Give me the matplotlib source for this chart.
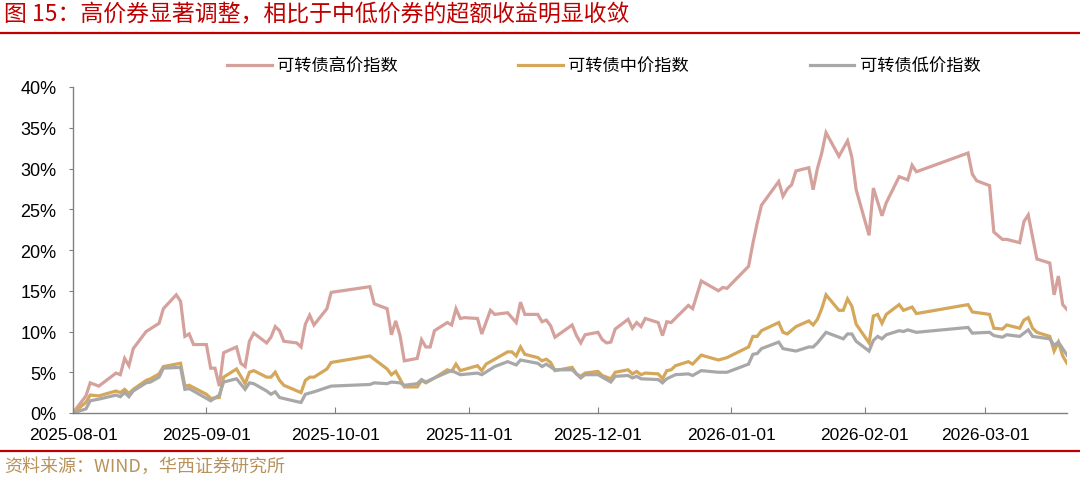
import matplotlib
matplotlib.use('Agg')
import matplotlib.pyplot as plt
import matplotlib.dates as mdates
import pandas as pd

plt.rcParams['font.family'] = ['Liberation Sans', 'Noto Sans CJK SC', 'DejaVu Sans']

# ---------------- 数据（从图上读取，单位 %） ----------------
high_dates = ['2025-08-01', '2025-08-04', '2025-08-05', '2025-08-07', '2025-08-11', '2025-08-12',
              '2025-08-13', '2025-08-14', '2025-08-15', '2025-08-18', '2025-08-21', '2025-08-22',
              '2025-08-25', '2025-08-26', '2025-08-27', '2025-08-28', '2025-08-29', '2025-09-01',
              '2025-09-02', '2025-09-03', '2025-09-04', '2025-09-05', '2025-09-08', '2025-09-09',
              '2025-09-10', '2025-09-11', '2025-09-12', '2025-09-15', '2025-09-16', '2025-09-17',
              '2025-09-18', '2025-09-19', '2025-09-22', '2025-09-23', '2025-09-24', '2025-09-25',
              '2025-09-26', '2025-09-29', '2025-09-30', '2025-10-09', '2025-10-10', '2025-10-13',
              '2025-10-14', '2025-10-15', '2025-10-16', '2025-10-17', '2025-10-20', '2025-10-21',
              '2025-10-22', '2025-10-23', '2025-10-24', '2025-10-27', '2025-10-28', '2025-10-29',
              '2025-10-30', '2025-10-31', '2025-11-03', '2025-11-04', '2025-11-06', '2025-11-07',
              '2025-11-10', '2025-11-12', '2025-11-13', '2025-11-14', '2025-11-17', '2025-11-18',
              '2025-11-19', '2025-11-20', '2025-11-21', '2025-11-25', '2025-11-26', '2025-11-27',
              '2025-11-28', '2025-12-01', '2025-12-02', '2025-12-03', '2025-12-04', '2025-12-05',
              '2025-12-08', '2025-12-09', '2025-12-10', '2025-12-11', '2025-12-12', '2025-12-15',
              '2025-12-16', '2025-12-17', '2025-12-18', '2025-12-22', '2025-12-23', '2025-12-25',
              '2025-12-29', '2025-12-30', '2025-12-31', '2026-01-05', '2026-01-06', '2026-01-07',
              '2026-01-08', '2026-01-12', '2026-01-13', '2026-01-14', '2026-01-15', '2026-01-16',
              '2026-01-19', '2026-01-20', '2026-01-21', '2026-01-22', '2026-01-23', '2026-01-26',
              '2026-01-28', '2026-01-29', '2026-01-30', '2026-02-02', '2026-02-03', '2026-02-05',
              '2026-02-06', '2026-02-09', '2026-02-11', '2026-02-12', '2026-02-13', '2026-02-25',
              '2026-02-26', '2026-02-27', '2026-03-02', '2026-03-03', '2026-03-05', '2026-03-06',
              '2026-03-09', '2026-03-10', '2026-03-11', '2026-03-13', '2026-03-16', '2026-03-17',
              '2026-03-18', '2026-03-19', '2026-03-20']
high_vals = [0.0, 2.1, 3.7, 3.3, 4.9, 4.7, 6.7, 5.8, 7.9, 10.0, 11.0, 12.8,
             14.5, 13.7, 9.4, 9.7, 8.4, 8.4, 5.5, 5.5, 3.3, 7.4, 8.1, 6.1,
             5.7, 8.8, 9.8, 8.6, 9.3, 10.6, 10.1, 8.8, 8.6, 8.1, 10.9, 12.0,
             10.8, 12.8, 14.8, 15.5, 13.4, 12.8, 9.6, 11.3, 9.5, 6.4, 6.7, 9.0,
             8.1, 8.1, 10.1, 11.1, 10.8, 12.8, 11.6, 11.7, 11.6, 9.7, 12.6, 12.1,
             12.3, 11.1, 13.6, 12.1, 12.1, 11.2, 11.4, 10.7, 9.3, 10.8, 9.5, 8.6,
             9.6, 9.9, 9.0, 8.6, 8.7, 10.3, 11.5, 10.4, 11.1, 10.6, 11.6, 11.1,
             9.5, 11.2, 11.1, 13.2, 12.8, 16.2, 15.0, 15.4, 15.3, 18.0, 20.8, 23.3,
             25.5, 28.4, 26.6, 27.5, 28.0, 29.7, 30.1, 27.4, 30.0, 31.9, 34.4, 31.5,
             33.4, 31.4, 27.4, 21.8, 27.6, 24.2, 25.8, 29.0, 28.6, 30.4, 29.6, 31.9,
             29.3, 28.5, 27.9, 22.2, 21.3, 21.3, 20.9, 23.5, 24.3, 18.9, 18.4, 14.5,
             16.8, 13.3, 12.7]

mid_dates = ['2025-08-01', '2025-08-04', '2025-08-05', '2025-08-07', '2025-08-11', '2025-08-12',
             '2025-08-13', '2025-08-14', '2025-08-15', '2025-08-18', '2025-08-19', '2025-08-21',
             '2025-08-22', '2025-08-26', '2025-08-27', '2025-08-28', '2025-09-01', '2025-09-02',
             '2025-09-04', '2025-09-05', '2025-09-08', '2025-09-10', '2025-09-11', '2025-09-12',
             '2025-09-15', '2025-09-16', '2025-09-17', '2025-09-18', '2025-09-19', '2025-09-23',
             '2025-09-24', '2025-09-25', '2025-09-26', '2025-09-29', '2025-09-30', '2025-10-09',
             '2025-10-13', '2025-10-14', '2025-10-15', '2025-10-17', '2025-10-20', '2025-10-21',
             '2025-10-22', '2025-10-24', '2025-10-27', '2025-10-28', '2025-10-29', '2025-10-30',
             '2025-11-03', '2025-11-04', '2025-11-05', '2025-11-07', '2025-11-10', '2025-11-11',
             '2025-11-12', '2025-11-13', '2025-11-14', '2025-11-17', '2025-11-18', '2025-11-19',
             '2025-11-20', '2025-11-21', '2025-11-25', '2025-11-26', '2025-11-27', '2025-11-28',
             '2025-12-01', '2025-12-02', '2025-12-04', '2025-12-05', '2025-12-08', '2025-12-09',
             '2025-12-10', '2025-12-11', '2025-12-12', '2025-12-15', '2025-12-16', '2025-12-17',
             '2025-12-18', '2025-12-19', '2025-12-22', '2025-12-23', '2025-12-25', '2025-12-29',
             '2025-12-31', '2026-01-05', '2026-01-06', '2026-01-07', '2026-01-08', '2026-01-12',
             '2026-01-13', '2026-01-14', '2026-01-16', '2026-01-19', '2026-01-20', '2026-01-21',
             '2026-01-22', '2026-01-23', '2026-01-26', '2026-01-27', '2026-01-28', '2026-01-29',
             '2026-01-30', '2026-02-02', '2026-02-03', '2026-02-04', '2026-02-05', '2026-02-06',
             '2026-02-09', '2026-02-10', '2026-02-12', '2026-02-13', '2026-02-25', '2026-02-26',
             '2026-03-02', '2026-03-03', '2026-03-05', '2026-03-06', '2026-03-09', '2026-03-10',
             '2026-03-11', '2026-03-12', '2026-03-13', '2026-03-16', '2026-03-17', '2026-03-18',
             '2026-03-19', '2026-03-20']
mid_vals = [0.0, 1.3, 2.2, 2.1, 2.7, 2.5, 2.9, 2.4, 2.9, 4.0, 4.2, 4.8,
            5.7, 6.1, 3.3, 3.4, 2.3, 1.8, 1.9, 4.4, 5.4, 3.6, 5.0, 5.2,
            4.4, 4.4, 5.0, 4.0, 3.4, 2.5, 4.0, 4.4, 4.4, 5.4, 6.2, 7.0,
            5.4, 4.7, 5.1, 3.2, 3.2, 4.0, 3.7, 4.3, 5.3, 5.1, 6.0, 5.2,
            5.8, 5.2, 6.0, 6.6, 7.5, 7.5, 7.0, 8.1, 7.2, 6.8, 6.4, 6.6,
            6.2, 5.2, 5.6, 4.8, 4.5, 4.9, 5.1, 4.6, 4.2, 5.0, 5.3, 4.8,
            5.1, 4.7, 4.9, 4.8, 4.2, 5.2, 5.3, 5.8, 6.3, 6.0, 7.1, 6.5,
            6.8, 8.1, 9.4, 9.4, 10.1, 11.1, 9.9, 9.7, 10.6, 11.3, 10.8, 11.5,
            12.8, 14.5, 12.6, 12.6, 14.0, 13.1, 10.9, 8.6, 11.9, 12.1, 11.0, 12.1,
            13.3, 12.6, 13.0, 12.2, 13.3, 12.4, 12.1, 10.4, 10.3, 10.8, 10.4, 11.4,
            11.7, 10.4, 9.9, 9.4, 7.6, 8.7, 7.0, 6.1]

low_dates = ['2025-08-01', '2025-08-04', '2025-08-05', '2025-08-07', '2025-08-11', '2025-08-12',
             '2025-08-13', '2025-08-14', '2025-08-15', '2025-08-18', '2025-08-19', '2025-08-21',
             '2025-08-22', '2025-08-26', '2025-08-27', '2025-08-28', '2025-08-29', '2025-09-02',
             '2025-09-04', '2025-09-05', '2025-09-08', '2025-09-10', '2025-09-11', '2025-09-12',
             '2025-09-15', '2025-09-16', '2025-09-17', '2025-09-18', '2025-09-22', '2025-09-23',
             '2025-09-24', '2025-09-26', '2025-09-30', '2025-10-09', '2025-10-10', '2025-10-13',
             '2025-10-14', '2025-10-16', '2025-10-17', '2025-10-20', '2025-10-21', '2025-10-22',
             '2025-10-24', '2025-10-27', '2025-10-28', '2025-10-30', '2025-11-03', '2025-11-04',
             '2025-11-07', '2025-11-10', '2025-11-12', '2025-11-13', '2025-11-17', '2025-11-18',
             '2025-11-19', '2025-11-21', '2025-11-25', '2025-11-27', '2025-11-28', '2025-12-01',
             '2025-12-04', '2025-12-05', '2025-12-08', '2025-12-09', '2025-12-10', '2025-12-11',
             '2025-12-15', '2025-12-16', '2025-12-17', '2025-12-19', '2025-12-22', '2025-12-23',
             '2025-12-25', '2025-12-29', '2025-12-31', '2026-01-05', '2026-01-06', '2026-01-07',
             '2026-01-08', '2026-01-12', '2026-01-13', '2026-01-16', '2026-01-19', '2026-01-20',
             '2026-01-21', '2026-01-23', '2026-01-27', '2026-01-28', '2026-01-29', '2026-01-30',
             '2026-02-02', '2026-02-03', '2026-02-04', '2026-02-05', '2026-02-06', '2026-02-09',
             '2026-02-10', '2026-02-11', '2026-02-13', '2026-02-25', '2026-02-26', '2026-03-02',
             '2026-03-03', '2026-03-05', '2026-03-06', '2026-03-09', '2026-03-11', '2026-03-12',
             '2026-03-16', '2026-03-17', '2026-03-18', '2026-03-20']
low_vals = [0.0, 0.5, 1.5, 1.7, 2.2, 2.0, 2.5, 2.0, 2.7, 3.7, 3.8, 4.4,
            5.5, 5.6, 2.9, 3.0, 2.7, 1.5, 2.2, 3.8, 4.2, 2.9, 3.7, 3.6,
            2.7, 2.3, 2.6, 1.9, 1.4, 1.3, 2.3, 2.6, 3.3, 3.5, 3.7, 3.6,
            3.8, 3.7, 3.4, 3.6, 4.1, 3.8, 4.3, 5.0, 5.2, 4.7, 4.9, 4.7,
            5.7, 6.3, 5.9, 6.5, 6.1, 5.7, 6.0, 5.3, 5.3, 4.3, 4.7, 4.7,
            3.8, 4.5, 4.6, 4.3, 4.5, 4.2, 4.1, 3.7, 4.2, 4.7, 4.8, 4.6,
            5.2, 5.0, 5.0, 6.0, 7.2, 7.3, 7.9, 8.7, 7.9, 7.6, 8.1, 8.1,
            8.6, 9.9, 9.1, 9.7, 9.7, 8.8, 7.6, 8.9, 9.4, 9.1, 9.6, 10.1,
            10.0, 10.2, 9.9, 10.5, 9.8, 9.9, 9.5, 9.3, 9.6, 9.4, 10.2, 9.4,
            9.1, 8.3, 8.7, 7.1]

labels = ['可转债高价指数', '可转债中价指数', '可转债低价指数']
colors = ['#D5A19C', '#D4A75B', '#A8A8A8']
tick_dates = ['2025-08-01', '2025-09-01', '2025-10-01', '2025-11-01', '2025-12-01',
              '2026-01-01', '2026-02-01', '2026-03-01']

# ---------------- 绘图 ----------------
fig = plt.figure(figsize=(10.8, 4.81), dpi=100)
ax = fig.add_axes([73 / 1080, 1 - 414 / 481, (1067 - 73) / 1080, (414 - 88) / 481])

series = [(high_dates, high_vals), (mid_dates, mid_vals), (low_dates, low_vals)]
for (d, v), lab, c in zip(series, labels, colors):
    ax.plot(pd.to_datetime(d), v, color=c, lw=2.3, label=lab, solid_joinstyle='miter')

ax.set_xlim(pd.Timestamp('2025-08-01'), pd.Timestamp('2026-03-20'))
ax.set_ylim(0, 40)
ax.set_yticks(range(0, 41, 5))
ax.set_yticklabels([f'{y}%' for y in range(0, 41, 5)], fontsize=13)
ax.set_xticks(pd.to_datetime(tick_dates))
ax.xaxis.set_major_formatter(mdates.DateFormatter('%Y-%m-%d'))
for t in ax.get_xticklabels():
    t.set_fontsize(12.5)

for s in ['top', 'right']:
    ax.spines[s].set_visible(False)
for s in ['left', 'bottom']:
    ax.spines[s].set_color('#808080')
    ax.spines[s].set_linewidth(1.0)
ax.tick_params(axis='y', direction='out', length=3, color='#808080', pad=9)
ax.tick_params(axis='x', direction='in', length=4, color='#808080', pad=10)

fig.legend(loc='center', bbox_to_anchor=(0.559, 1 - 67 / 481), ncol=3, frameon=False,
           handlelength=2.6, handletextpad=0.3, columnspacing=7.0,
           prop={'family': ['Noto Sans CJK SC'], 'size': 12.4})

# 标题与来源
red = '#C00000'
fig.text(0.004, 1 - 15 / 481, '图 15：高价券显著调整，相比于中低价券的超额收益明显收敛',
         fontsize=16.5, color=red, va='center', ha='left',
         family=['Noto Sans CJK SC', 'DejaVu Sans'])
fig.add_artist(plt.Line2D([0, 1], [1 - 34 / 481, 1 - 34 / 481], color=red, lw=1.6))
fig.add_artist(plt.Line2D([0, 1], [1 - 452 / 481, 1 - 452 / 481], color=red, lw=1.6))
fig.text(0.004, 1 - 467 / 481, '资料来源：WIND，华西证券研究所', fontsize=13,
         color='#B8925A', va='center', ha='left',
         family=['Noto Sans CJK SC', 'DejaVu Sans'])

fig.savefig('out.png', dpi=100)
